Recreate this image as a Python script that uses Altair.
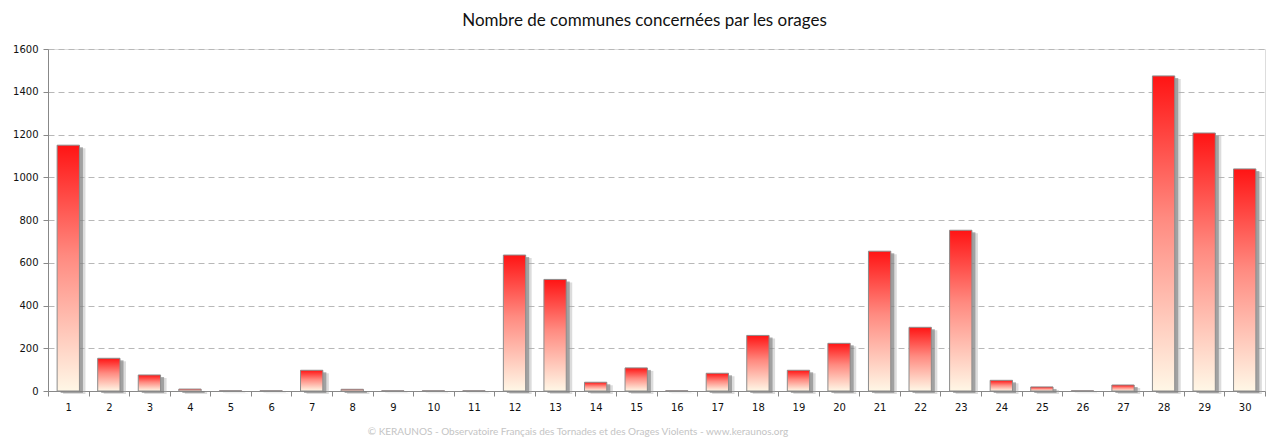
import altair as alt
import pandas as pd

days = [str(d) for d in range(1, 31)]
communes = [1150, 153, 75, 9, 1, 1, 97, 8, 1, 1,
            1, 636, 522, 41, 108, 1, 83, 260, 97, 223,
            654, 298, 752, 50, 19, 1, 28, 1474, 1207, 1039]
y_ticks = [0, 200, 400, 600, 800, 1000, 1200, 1400, 1600]
title_text = "Nombre de communes concernées par les orages"
footer_text = "© KERAUNOS - Observatoire Français des Tornades et des Orages Violents - www.keraunos.org"

df = pd.DataFrame({"jour": days, "communes": communes})

W, H = 1217, 342

x_enc = alt.X("jour:N", sort=days, title=None,
              scale=alt.Scale(paddingInner=0, paddingOuter=0),
              axis=alt.Axis(labelAngle=0, tickBand="extent", labelFont="DejaVu Sans",
                            labelFontSize=10, labelColor="#111111", labelPadding=6,
                            domainColor="#888888", tickColor="#888888", tickSize=5,
                            grid=False))
y_enc = alt.Y("communes:Q", title=None,
              scale=alt.Scale(domain=[0, 1600], nice=False),
              axis=alt.Axis(values=y_ticks, format="d", labelFont="DejaVu Sans",
                            labelFontSize=10, labelColor="#111111", labelPadding=5,
                            domainColor="#888888", tickColor="#888888", tickSize=5,
                            gridColor="#b8b8b8", gridDash=[6, 4], gridWidth=1))

base = alt.Chart(df)

shadow2 = base.mark_bar(width=alt.RelativeBandSize(0.55), color="#a8a8a8", opacity=0.4,
                        xOffset=6, yOffset=3).encode(x=x_enc, y=y_enc)
shadow1 = base.mark_bar(width=alt.RelativeBandSize(0.55), color="#7a7a7a", opacity=0.6,
                        xOffset=3.5, yOffset=2).encode(x=x_enc, y=y_enc)

grad = alt.Gradient(gradient="linear",
                    stops=[alt.GradientStop(color="#ff1414", offset=0),
                           alt.GradientStop(color="#ff8a80", offset=0.45),
                           alt.GradientStop(color="#fff7e6", offset=1)],
                    x1=0, x2=0, y1=0, y2=1)
bars = base.mark_bar(width=alt.RelativeBandSize(0.55), fill=grad, stroke="#8c8c8c",
                     strokeWidth=1).encode(x=x_enc, y=y_enc)

footer = alt.Chart(pd.DataFrame({"t": [footer_text]})).mark_text(
    font="Lato", fontSize=10, color="#c4c4c4", align="center", baseline="middle"
).encode(text="t:N", x=alt.value(530), y=alt.value(383))

chart = alt.layer(shadow2, shadow1, bars, footer).properties(
    width=W, height=H,
    title=alt.TitleParams(title_text, font="Lato", fontSize=17, fontWeight="normal",
                          color="#111111", anchor="middle", frame="group", dx=-12,
                          offset=14),
    autosize=alt.AutoSizeParams(type="none"),
    padding={"left": 40, "top": 41, "right": 8, "bottom": 47},
).configure_view(strokeWidth=0).configure(background="white")

chart.save("out.html", embed_options={"renderer": "svg", "actions": False})
